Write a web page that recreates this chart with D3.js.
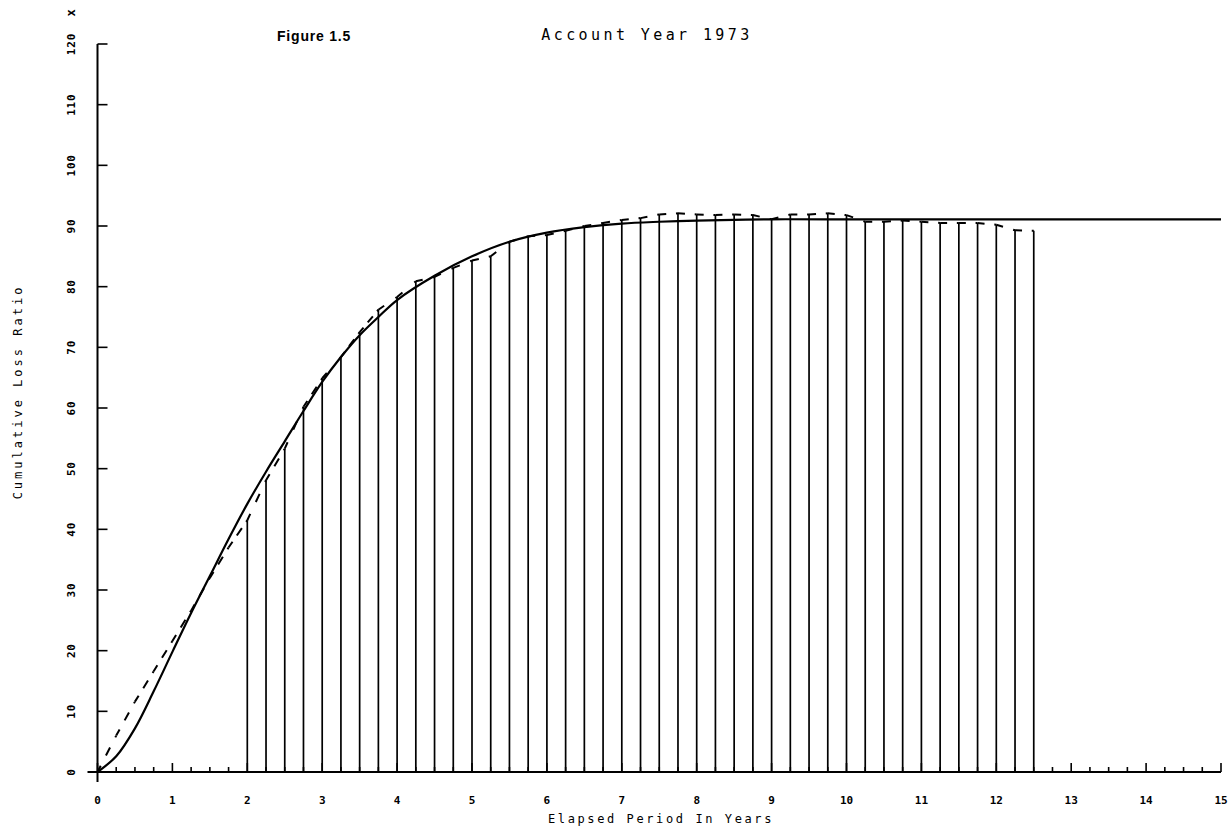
<!DOCTYPE html>
<html>
<head>
<meta charset="utf-8">
<script src="https://cdn.jsdelivr.net/npm/d3@7"></script>
<style>
  html, body { margin: 0; padding: 0; background: #fff; }
  svg { display: block; }
  text { fill: #000; }
</style>
</head>
<body>
<svg id="chart" width="1232" height="829"></svg>
<script>
// Axis ticks
const yearTicks = [0, 1, 2, 3, 4, 5, 6, 7, 8, 9, 10, 11, 12, 13, 14, 15];
const ratioTicks = [0, 10, 20, 30, 40, 50, 60, 70, 80, 90, 100, 110, 120];
const quarterTicks = d3.range(0, 15.001, 0.25);

// Observed cumulative loss ratio (%) at quarterly development points
const observedYears = d3.range(0, 12.501, 0.25);
const observedRatio = [
  0, 6.0, 11.6, 16.6, 21.6, 26.6, 32.0, 37.0, 41.5,
  48.1, 53.3, 60.2, 64.9, 68.4, 72.5, 76.2, 78.3,
  80.9, 81.6, 83.1, 84.3,
  85.0, 87.4, 88.3, 88.5,
  89.2, 90.0, 90.5, 91.0,
  91.3, 91.9, 92.1, 91.9,
  91.8, 91.9, 91.8, 91.1,
  91.9, 91.9, 92.1, 91.8,
  90.7, 90.7, 90.9, 90.7,
  90.5, 90.5, 90.5, 90.2,
  89.3, 89.2
];
// Vertical bars start at year 2
const barFromYear = 2;

// Fitted development curve
const fittedYears = [0, 0.25, 0.5, 0.75, 1, 1.25, 1.5, 1.75, 2, 2.25, 2.5, 2.75, 3, 3.25, 3.5, 3.75, 4,
                     4.5, 5, 5.5, 6, 6.5, 7, 7.5, 8, 9, 10, 11, 12, 13, 14, 15];
const fittedRatio = [0, 2.6, 7.2, 13.3, 19.8, 26.2, 32.3, 38.4, 44.2, 49.5, 54.5, 59.5, 64.3, 68.4, 72.0, 75.0, 77.8,
                     81.8, 85.0, 87.4, 88.9, 89.8, 90.4, 90.7, 90.9, 91.1, 91.1, 91.1, 91.1, 91.1, 91.1, 91.1];

const titleText = "Account Year 1973";
const figureText = "Figure 1.5";
const xTitle = "Elapsed Period In Years";
const yTitle = "Cumulative Loss Ratio";
const unitText = "x";

const svg = d3.select("#chart");
const x = d3.scaleLinear().domain([0, 15]).range([97.5, 1221]);
const y = d3.scaleLinear().domain([0, 120]).range([772, 44]);

const mono = "'DejaVu Sans Mono', 'Liberation Mono', monospace";

// Axes
const axes = svg.append("g").attr("stroke", "#000").attr("fill", "none");
axes.append("line").attr("x1", x(0) - 10).attr("x2", x(15)).attr("y1", y(0)).attr("y2", y(0)).attr("stroke-width", 2);
axes.append("line").attr("x1", x(0)).attr("x2", x(0)).attr("y1", y(0) + 10).attr("y2", y(120)).attr("stroke-width", 2);

// x ticks: quarter minor, year major
axes.selectAll(".xt").data(quarterTicks).join("line")
  .attr("x1", d => x(d)).attr("x2", d => x(d))
  .attr("y1", y(0))
  .attr("y2", d => y(0) - (Math.abs(d - Math.round(d)) < 1e-6 ? 9 : 5))
  .attr("stroke-width", 1.6);

// y ticks
axes.selectAll(".yt").data(ratioTicks.filter(d => d > 0)).join("line")
  .attr("x1", x(0)).attr("x2", x(0) + 10)
  .attr("y1", d => y(d)).attr("y2", d => y(d))
  .attr("stroke-width", 1.6);

// Tick labels
svg.append("g").selectAll("text").data(yearTicks).join("text")
  .attr("x", d => x(d)).attr("y", 800)
  .attr("text-anchor", "middle").attr("dominant-baseline", "central")
  .attr("font-family", mono).attr("font-weight", "bold").attr("font-size", 11)
  .text(d => d);

svg.append("g").selectAll("text").data(ratioTicks).join("text")
  .attr("transform", d => `translate(71,${y(d)}) rotate(-90)`)
  .attr("text-anchor", "middle").attr("dominant-baseline", "central")
  .attr("font-family", mono).attr("font-weight", "bold").attr("font-size", 11)
  .attr("letter-spacing", 0.8)
  .text(d => d);

svg.append("text")
  .attr("transform", "translate(71,13) rotate(-90)")
  .attr("text-anchor", "middle").attr("dominant-baseline", "central")
  .attr("font-family", mono).attr("font-weight", "bold").attr("font-size", 12)
  .text(unitText);

// Titles
svg.append("text")
  .attr("x", 647).attr("y", 35)
  .attr("text-anchor", "middle").attr("dominant-baseline", "central")
  .attr("font-family", mono).attr("font-size", 15).attr("letter-spacing", 3.4)
  .text(titleText);

svg.append("text")
  .attr("x", 277).attr("y", 36)
  .attr("text-anchor", "start").attr("dominant-baseline", "central")
  .attr("font-family", "'Liberation Sans', Arial, sans-serif").attr("font-size", 14)
  .attr("font-weight", 600).attr("letter-spacing", 0.8)
  .text(figureText);

svg.append("text")
  .attr("x", 661).attr("y", 819)
  .attr("text-anchor", "middle").attr("dominant-baseline", "central")
  .attr("font-family", mono).attr("font-size", 12).attr("letter-spacing", 2.6)
  .text(xTitle);

svg.append("text")
  .attr("transform", "translate(18,392) rotate(-90)")
  .attr("text-anchor", "middle").attr("dominant-baseline", "central")
  .attr("font-family", mono).attr("font-size", 12).attr("letter-spacing", 3)
  .text(yTitle);

// Observed data as points
const observed = observedYears.map((t, i) => ({ t, v: observedRatio[i] }));

// Vertical bars
svg.append("g").selectAll("line").data(observed.filter(d => d.t >= barFromYear - 1e-6)).join("line")
  .attr("x1", d => x(d.t)).attr("x2", d => x(d.t))
  .attr("y1", y(0)).attr("y2", d => y(d.v))
  .attr("stroke", "#000").attr("stroke-width", 1.7);

// Fitted curve
const fitted = fittedYears.map((t, i) => ({ t, v: fittedRatio[i] }));
svg.append("path").datum(fitted)
  .attr("d", d3.line().x(d => x(d.t)).y(d => y(d.v)).curve(d3.curveCatmullRom.alpha(0.5)))
  .attr("fill", "none").attr("stroke", "#000").attr("stroke-width", 2.2);

// Observed dashed line, dash pattern restarted on each interval
const segs = d3.pairs(observed);
svg.append("g").selectAll("path").data(segs).join("path")
  .attr("d", ([a, b]) => `M${x(a.t)},${y(a.v)}L${x(b.t)},${y(b.v)}`)
  .attr("fill", "none").attr("stroke", "#000").attr("stroke-width", 2)
  .each(function([a, b]) {
    const L = Math.hypot(x(b.t) - x(a.t), y(b.v) - y(a.v));
    const n = Math.max(1, Math.round(L / 19));
    const p = L / n;
    const dash = Math.min(9, p * 0.55);
    d3.select(this).attr("stroke-dasharray", `${dash} ${p - dash}`).attr("stroke-dashoffset", 2);
  });
</script>
</body>
</html>
